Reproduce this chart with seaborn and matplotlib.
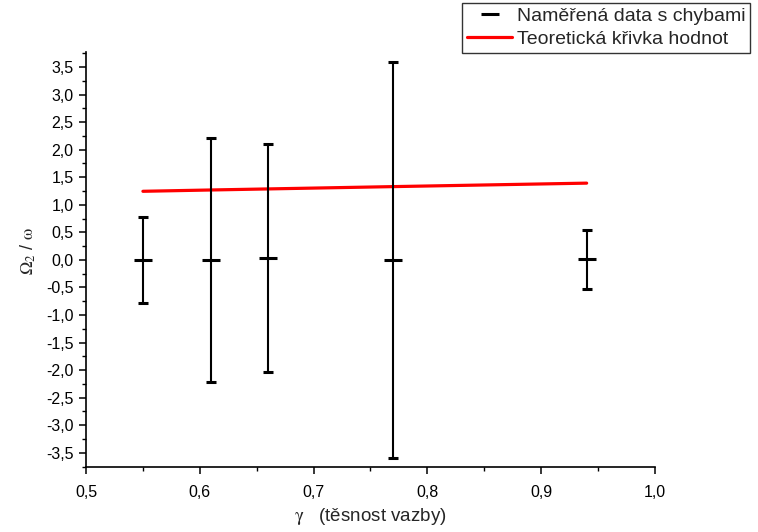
import matplotlib
matplotlib.use("Agg")
import matplotlib.pyplot as plt
from matplotlib.lines import Line2D
from matplotlib.ticker import FuncFormatter, MultipleLocator
import pandas as pd
import seaborn as sns

# measured points with uncertainties
gamma = [0.55, 0.61, 0.66, 0.77, 0.94]
omega_ratio = [0.0, 0.0, 0.03, 0.0, 0.01]
omega_err = [0.78, 2.22, 2.07, 3.60, 0.53]

# theoretical curve
gamma_theory = [0.55, 0.61, 0.66, 0.77, 0.94]
omega_theory = [1.245, 1.269, 1.288, 1.330, 1.393]

x_ticks = [0.5, 0.6, 0.7, 0.8, 0.9, 1.0]
y_ticks = [-3.5, -3.0, -2.5, -2.0, -1.5, -1.0, -0.5, 0.0, 0.5, 1.0, 1.5, 2.0, 2.5, 3.0, 3.5]

LABEL_DATA = "Naměřená data s chybami"
LABEL_THEORY = "Teoretická křivka hodnot"

sns.set_theme(style="ticks")
plt.rcParams["font.family"] = ["Liberation Sans", "DejaVu Sans"]
plt.rcParams["mathtext.fontset"] = "stix"


def comma(v, _pos):
    return f"{v:.1f}".replace(".", ",")


fig = plt.figure(figsize=(7.58, 5.32), dpi=100)
ax = fig.add_axes([0.1135, 0.122, 0.7505, 0.781])

theory = pd.DataFrame({"gamma": gamma_theory, "omega": omega_theory})
sns.lineplot(data=theory, x="gamma", y="omega", color="#ff0000", linewidth=2.3, ax=ax)

ax.errorbar(gamma, omega_ratio, yerr=omega_err, fmt="_", color="black",
            markersize=13, markeredgewidth=2.2, elinewidth=1.5,
            capsize=3.3, capthick=1.5)

ax.set_xlim(0.5, 1.0)
ax.set_ylim(-3.76, 3.78)
ax.set_xticks(x_ticks)
ax.set_yticks(y_ticks)
ax.xaxis.set_minor_locator(MultipleLocator(0.05))
ax.yaxis.set_minor_locator(MultipleLocator(0.25))
ax.xaxis.set_major_formatter(FuncFormatter(comma))
ax.yaxis.set_major_formatter(FuncFormatter(comma))

for side in ["top", "right"]:
    ax.spines[side].set_visible(False)
for side in ["left", "bottom"]:
    ax.spines[side].set_linewidth(1.2)
    ax.spines[side].set_color("black")

ax.tick_params(which="major", direction="out", length=5, width=1.1,
               labelsize=11.5, colors="black")
ax.tick_params(axis="x", which="major", pad=8)
ax.tick_params(axis="y", which="major", pad=4)
ax.tick_params(which="minor", direction="out", length=3, width=1.0, colors="black")

ax.set_xlabel(r"$\mathrm{\gamma}$   (těsnost vazby)", fontsize=13.5, labelpad=4)
ax.set_ylabel(r"$\mathrm{\Omega_{2}}$ / $\mathrm{\omega}$", fontsize=13)
ax.yaxis.set_label_coords(-0.085, 0.52)

handles = [
    Line2D([], [], color="black", marker="_", linestyle="none",
           markersize=13, markeredgewidth=2.2),
    Line2D([], [], color="#ff0000", linewidth=2.3),
]
leg = fig.legend(handles, [LABEL_DATA, LABEL_THEORY], loc="upper right",
                 bbox_to_anchor=(0.99, 0.995), fontsize=14, frameon=True,
                 fancybox=False, borderpad=0.25, labelspacing=0.28,
                 handlelength=2.3, handletextpad=0.25, borderaxespad=0)
leg.get_frame().set_edgecolor("black")
leg.get_frame().set_linewidth(1.0)

fig.savefig("out.png", dpi=100)
